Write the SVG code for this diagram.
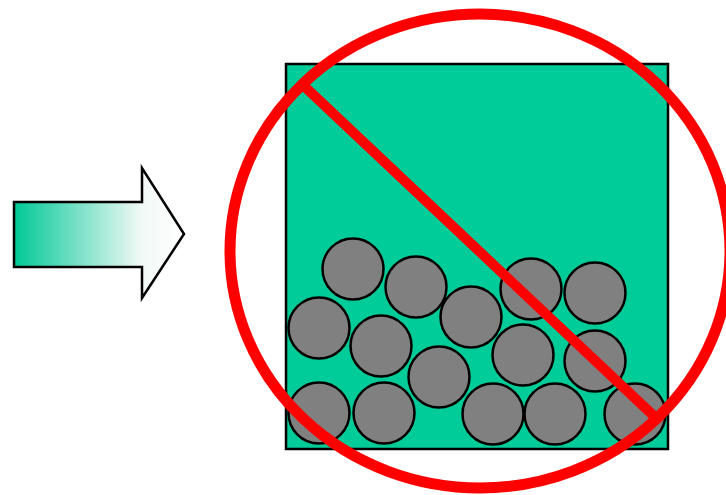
<svg xmlns="http://www.w3.org/2000/svg" width="726" height="495" viewBox="0 0 726 495">
<defs>
<linearGradient id="arrowGrad" x1="14" y1="0" x2="184" y2="0" gradientUnits="userSpaceOnUse">
<stop offset="0" stop-color="#00C896"/>
<stop offset="0.75" stop-color="#F2F9F6"/>
<stop offset="1" stop-color="#FFFFFF"/>
</linearGradient>
<style>
.ball{fill:#808080;stroke:#000;stroke-width:2.5}
.no{fill:none;stroke:#FF0000}
</style>
</defs>
<rect width="726" height="495" fill="#fff"/>
<g id="arrow">
<polygon points="14,202 142,202 142,168 184,234 142,298 142,267 14,267" fill="url(#arrowGrad)" stroke="#000" stroke-width="2.5" stroke-linejoin="miter"/>
</g>
<g id="box">
<rect x="286" y="64" width="382" height="385" fill="#00CC99" stroke="#000" stroke-width="2.5"/>
</g>
<g id="balls">
<circle class="ball" cx="353" cy="269" r="30.5"/>
<circle class="ball" cx="416" cy="287" r="30.5"/>
<circle class="ball" cx="319" cy="328" r="30.5"/>
<circle class="ball" cx="381" cy="346" r="30.5"/>
<circle class="ball" cx="471" cy="317" r="30.5"/>
<circle class="ball" cx="531" cy="289" r="30.5"/>
<circle class="ball" cx="595" cy="293" r="30.5"/>
<circle class="ball" cx="523" cy="355" r="30.5"/>
<circle class="ball" cx="439" cy="377" r="30.5"/>
<circle class="ball" cx="595" cy="361" r="30.5"/>
<circle class="ball" cx="319" cy="413" r="30.5"/>
<circle class="ball" cx="384" cy="413" r="30.5"/>
<circle class="ball" cx="493" cy="414" r="30.5"/>
<circle class="ball" cx="555" cy="414" r="30.5"/>
<circle class="ball" cx="635" cy="414" r="30.5"/>
</g>
<g id="prohibition">
<line class="no" x1="304" y1="86" x2="656" y2="418" stroke-width="10"/>
<ellipse class="no" cx="480" cy="251" rx="250" ry="237" stroke-width="11"/>
</g>
</svg>
